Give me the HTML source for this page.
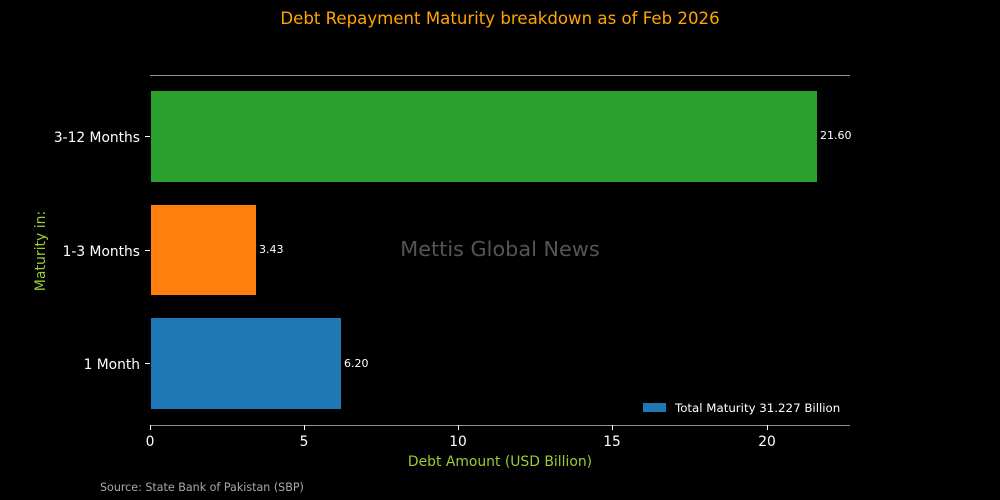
<!DOCTYPE html>
<html><head><style>body{margin:0;background:#000}svg{display:block}text{font-family:"DejaVu Sans","Liberation Sans",sans-serif}</style></head>
<body>
<svg width="1000" height="500" viewBox="0 0 1000 500" xmlns="http://www.w3.org/2000/svg">
<rect width="1000" height="500" fill="#000"/>
<text x="500" y="24" fill="#ffa500" font-size="16.6" text-anchor="middle">Debt Repayment Maturity breakdown as of Feb 2026</text>
<line x1="150" y1="75.5" x2="850" y2="75.5" stroke="#8a929c" stroke-width="1"/>
<line x1="150" y1="425.5" x2="850" y2="425.5" stroke="#8a929c" stroke-width="1"/>
<rect x="151" y="91" width="666" height="91" fill="#2ca02c"/>
<rect x="151" y="205" width="105" height="90" fill="#ff7f0e"/>
<rect x="151" y="318" width="190" height="91" fill="#1f77b4"/>
<text x="820" y="139" fill="#fff" font-size="11">21.60</text>
<text x="259" y="253" fill="#fff" font-size="11">3.43</text>
<text x="344" y="367" fill="#fff" font-size="11">6.20</text>
<text x="500" y="256" fill="#555" font-size="20.8" text-anchor="middle">Mettis Global News</text>
<g stroke="#fff" stroke-width="1">
<line x1="145" y1="136.5" x2="150" y2="136.5"/><line x1="145" y1="250.5" x2="150" y2="250.5"/><line x1="145" y1="363.5" x2="150" y2="363.5"/>
<line x1="150.5" y1="425" x2="150.5" y2="430"/><line x1="304.5" y1="425" x2="304.5" y2="430"/><line x1="458.5" y1="425" x2="458.5" y2="430"/><line x1="612.5" y1="425" x2="612.5" y2="430"/><line x1="767.5" y1="425" x2="767.5" y2="430"/>
</g>
<g fill="#fff" font-size="13.8" text-anchor="end">
<text x="140" y="142">3-12 Months</text><text x="140" y="256">1-3 Months</text><text x="140" y="369">1 Month</text>
</g>
<g fill="#fff" font-size="13.8" text-anchor="middle">
<text x="150" y="446">0</text><text x="304" y="446">5</text><text x="458" y="446">10</text><text x="612" y="446">15</text><text x="767" y="446">20</text>
</g>
<text x="500" y="466" fill="#9acd32" font-size="13.9" text-anchor="middle">Debt Amount (USD Billion)</text>
<text transform="translate(45,251) rotate(-90)" fill="#9acd32" font-size="14" text-anchor="middle">Maturity in:</text>
<rect x="643" y="403" width="23" height="9" fill="#1f77b4"/>
<text x="675" y="412" fill="#fff" font-size="11.8">Total Maturity 31.227 Billion</text>
<text x="100" y="491" fill="#aaa" font-size="11.1">Source: State Bank of Pakistan (SBP)</text>
</svg>
</body></html>
